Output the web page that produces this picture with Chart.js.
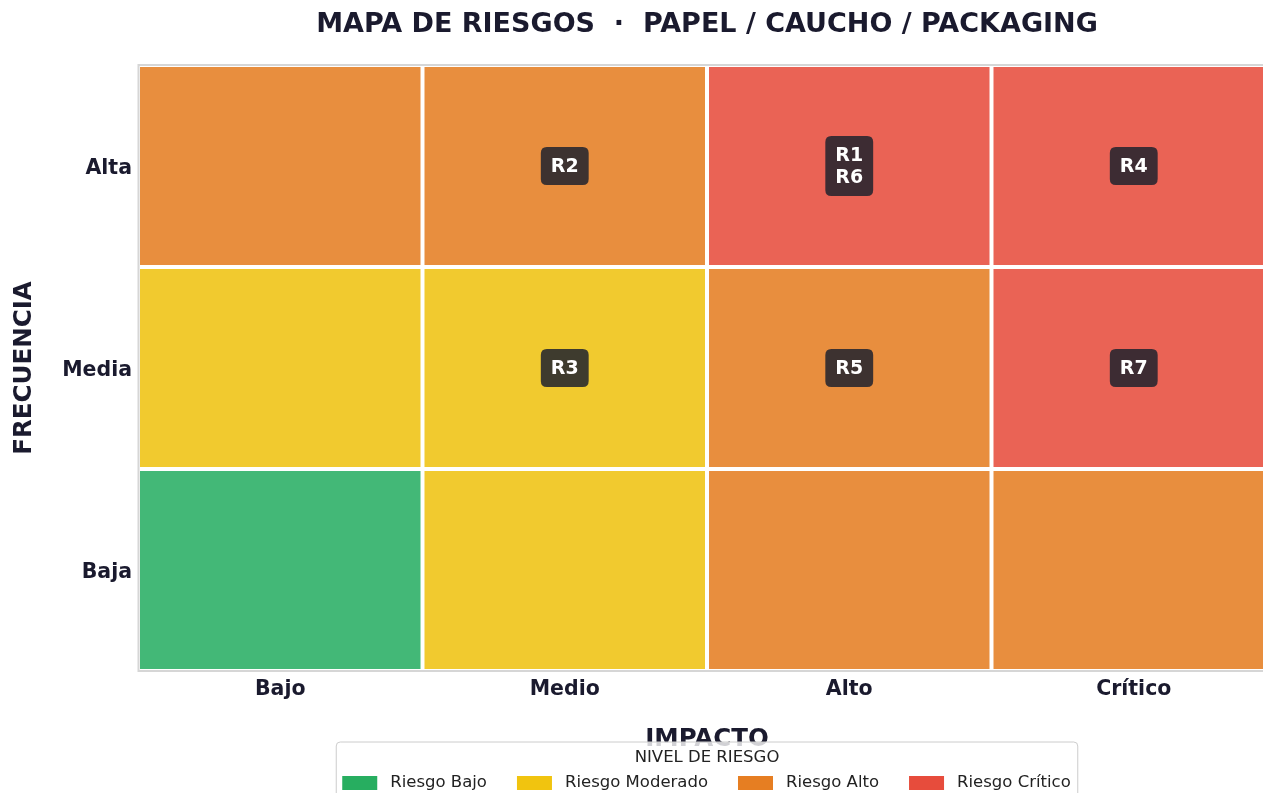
<!DOCTYPE html>
<html><head><meta charset="utf-8">
<script src="https://cdn.jsdelivr.net/npm/chart.js@4"></script>
<style>html,body{margin:0;padding:0;background:#fff;overflow:hidden}#wrap{width:1290px;height:810px}</style>
</head><body><div id="wrap"><canvas id="c" width="1290" height="810"></canvas></div>
<script>
const titleText = 'MAPA DE RIESGOS  ·  PAPEL / CAUCHO / PACKAGING';
const impactLabels = ['Bajo', 'Medio', 'Alto', 'Crítico'];
const freqLabels = ['Baja', 'Media', 'Alta'];
const freqTickValues = [0.5, 1.5, 2.5];
const legendTitle = 'NIVEL DE RIESGO';
const levelNames = ['Riesgo Bajo', 'Riesgo Moderado', 'Riesgo Alto', 'Riesgo Crítico'];
const levelColors = ['#27AE60', '#F1C40F', '#E67E22', '#E74C3C'];
const cellColors = ['#43B877', '#F1CA2F', '#E88E3E', '#EA6355'];
// risk level index per cell (columns = impact)
const levelBaja = [0, 1, 2, 2];
const levelMedia = [1, 1, 2, 3];
const levelAlta = [2, 2, 3, 3];
const riskIds = ['R1', 'R2', 'R3', 'R4', 'R5', 'R6', 'R7'];
const riskImpact = ['Alto', 'Medio', 'Medio', 'Crítico', 'Alto', 'Alto', 'Crítico'];
const riskFreq = ['Alta', 'Alta', 'Media', 'Alta', 'Media', 'Alta', 'Media'];

const DARK = '#1a1a2e';
Chart.defaults.font.family = '"DejaVu Sans", sans-serif';

const rowLevels = [levelBaja, levelMedia, levelAlta];
const datasets = rowLevels.map((lv, r) => ({
  label: freqLabels[r],
  data: impactLabels.map(() => [r, r + 1]),
  backgroundColor: lv.map(l => cellColors[l]),
  borderColor: '#ffffff',
  borderWidth: 2,
  borderSkipped: false,
  inflateAmount: 0,
  grouped: false,
  barPercentage: 1,
  categoryPercentage: 1
}));

const layoutPlugin = {
  id: 'titleCenter',
  afterLayout(chart) {
    const ca = chart.chartArea;
    if (chart.titleBlock) { chart.titleBlock.left = ca.left; chart.titleBlock.right = ca.right; }
  }
};

function rr(ctx, x, y, w, h, r) {
  ctx.beginPath();
  ctx.moveTo(x + r, y);
  ctx.lineTo(x + w - r, y); ctx.quadraticCurveTo(x + w, y, x + w, y + r);
  ctx.lineTo(x + w, y + h - r); ctx.quadraticCurveTo(x + w, y + h, x + w - r, y + h);
  ctx.lineTo(x + r, y + h); ctx.quadraticCurveTo(x, y + h, x, y + h - r);
  ctx.lineTo(x, y + r); ctx.quadraticCurveTo(x, y, x + r, y);
  ctx.closePath();
}

const labelPlugin = {
  id: 'riskLabels',
  afterDatasetsDraw(chart) {
    const ctx = chart.ctx, ca = chart.chartArea;
    const xs = chart.scales.x, ys = chart.scales.y;
    ctx.save();
    ctx.strokeStyle = '#d6d6d6';
    ctx.lineWidth = 2;
    ctx.strokeRect(ca.left + 0.5, ca.top, ca.right - ca.left, ca.bottom - ca.top);
    const groups = {};
    const order = [];
    riskIds.forEach((id, i) => {
      const k = riskImpact[i] + '|' + riskFreq[i];
      if (!groups[k]) { groups[k] = []; order.push(k); }
      groups[k].push(id);
    });
    ctx.font = 'bold 19px "DejaVu Sans"';
    ctx.textAlign = 'center';
    ctx.textBaseline = 'middle';
    const lh = 22;
    order.forEach(k => {
      const [imp, fr] = k.split('|');
      const ids = groups[k];
      const x = xs.getPixelForValue(impactLabels.indexOf(imp));
      const y = ys.getPixelForValue(freqLabels.indexOf(fr) + 0.5);
      const w = Math.max(...ids.map(t => ctx.measureText(t).width)) + 20;
      const h = ids.length * lh + 16;
      ctx.fillStyle = 'rgba(30,34,46,0.85)';
      rr(ctx, x - w / 2, y - h / 2, w, h, 6);
      ctx.fill();
      ctx.fillStyle = '#ffffff';
      ids.forEach((t, i) => ctx.fillText(t, x, y - (ids.length - 1) * lh / 2 + i * lh + 1));
    });
    ctx.restore();
  }
};

const legendPlugin = {
  id: 'boxLegend',
  afterDraw(chart) {
    const ctx = chart.ctx, ca = chart.chartArea;
    const cx = (ca.left + ca.right) / 2;
    ctx.save();
    ctx.font = '16.5px "DejaVu Sans"';
    const widths = levelNames.map(t => ctx.measureText(t).width);
    const hw = 35, hh = 14, gapT = 13, gapI = 30;
    let content = widths.reduce((s, w) => s + hw + gapT + w, 0) + gapI * (levelNames.length - 1);
    const boxW = content + 13;
    const x0 = cx - boxW / 2, top = 742, bot = 800;
    rr(ctx, x0, top, boxW, bot - top, 4);
    ctx.fillStyle = 'rgba(255,255,255,0.8)';
    ctx.fill();
    ctx.strokeStyle = '#cccccc';
    ctx.lineWidth = 1;
    ctx.stroke();
    ctx.fillStyle = '#222222';
    ctx.textAlign = 'center';
    ctx.textBaseline = 'middle';
    ctx.fillText(legendTitle, cx, 758);
    let x = x0 + 6;
    const iy = 783;
    ctx.textAlign = 'left';
    levelNames.forEach((t, i) => {
      ctx.fillStyle = levelColors[i];
      ctx.fillRect(x, iy - hh / 2, hw, hh);
      ctx.fillStyle = '#222222';
      ctx.fillText(t, x + hw + gapT, iy);
      x += hw + gapT + widths[i] + gapI;
    });
    ctx.restore();
  }
};

new Chart(document.getElementById('c'), {
  type: 'bar',
  data: { labels: impactLabels, datasets },
  options: {
    responsive: false,
    animation: false,
    devicePixelRatio: 1,
    layout: { padding: { left: 0, right: 14, top: 0, bottom: 49 } },
    plugins: {
      legend: { display: false },
      tooltip: { enabled: false },
      title: {
        display: true,
        text: titleText,
        color: DARK,
        font: { size: 27, weight: 'bold' },
        padding: { top: 9, bottom: 23.6 }
      }
    },
    scales: {
      x: {
        type: 'category',
        offset: true,
        grid: { display: false, drawTicks: false },
        border: { display: false },
        ticks: { color: DARK, font: { size: 20.5, weight: 'bold' }, padding: 6 },
        title: { display: true, text: 'IMPACTO', color: DARK, font: { size: 24.5, weight: 'bold' }, padding: { top: 0, bottom: 7 } },
        afterFit(s) { s.height = 90; }
      },
      y: {
        type: 'linear',
        min: 0, max: 3,
        grid: { display: false, drawTicks: false },
        border: { display: false },
        afterBuildTicks(s) { s.ticks = freqTickValues.map(v => ({ value: v })); },
        ticks: {
          color: DARK, font: { size: 20.5, weight: 'bold' }, padding: 6, labelOffset: 3,
          callback: (v) => freqLabels[Math.floor(v)]
        },
        title: { display: true, text: 'FRECUENCIA', color: DARK, font: { size: 24.5, weight: 'bold' }, padding: { top: 10, bottom: 0 } },
        afterFit(s) { s.width = 138; }
      }
    }
  },
  plugins: [layoutPlugin, labelPlugin, legendPlugin]
});
</script>
</body></html>
